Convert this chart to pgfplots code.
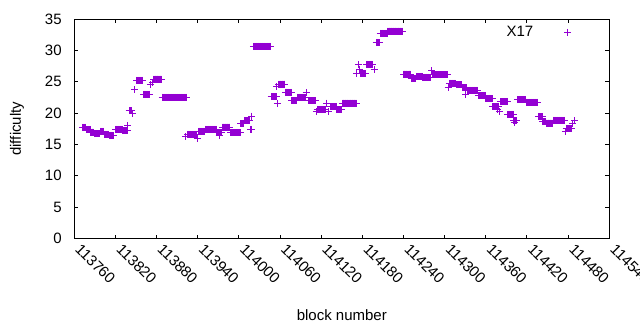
\documentclass[border=0pt]{standalone}
\usepackage{fontspec}
\setmainfont{Liberation Sans}
\usepackage{pgfplots}
\usepackage{pgfplotstable}
\pgfplotsset{compat=1.18}
\definecolor{dv}{RGB}{148,0,211}
\pgfplotstableread[row sep=\\]{
x y\\
113772 17.7\\113773 17.7\\113774 17.7\\113775 17.7\\113776 17.7\\113777 17.7\\
113778 17.35\\113779 17.35\\113780 17.35\\113781 17.35\\113782 17.35\\113783 17.35\\
113784 16.95\\113785 16.95\\113786 16.95\\113787 16.95\\113788 16.95\\
113789 16.7\\113790 16.7\\113791 16.7\\113792 16.7\\113793 16.7\\113794 16.7\\113795 16.7\\113796 16.7\\113797 16.7\\
113798 17.1\\113799 17.1\\113800 17.1\\113801 17.1\\113802 17.1\\113803 17.1\\
113804 16.6\\113805 16.6\\113806 16.6\\113807 16.6\\113808 16.6\\113809 16.6\\113810 16.6\\
113811 16.4\\113812 16.4\\113813 16.4\\113814 16.4\\113815 16.4\\113816 16.4\\113817 16.4\\
113820 17.4\\113821 17.4\\113822 17.4\\113823 17.4\\113824 17.4\\113825 17.4\\113826 17.4\\113827 17.4\\113828 17.4\\113829 17.4\\113830 17.4\\
113831 17.2\\113832 17.2\\113833 17.2\\113834 17.2\\113835 17.2\\113836 17.2\\113837 17.2\\
113838 18.0\\
113840 20.4\\113841 20.4\\113842 20.4\\113843 20.4\\113844 20.4\\
113845 20.0\\
113848 23.7\\
113851 25.2\\113852 25.2\\113853 25.2\\113854 25.2\\113855 25.2\\113856 25.2\\113857 25.2\\113858 25.2\\113859 25.2\\113860 25.2\\
113861 23.0\\113862 23.0\\113863 23.0\\113864 23.0\\113865 23.0\\113866 23.0\\113867 23.0\\113868 23.0\\113869 23.0\\113870 23.0\\
113871 24.5\\
113874 24.85\\
113876 25.4\\113877 25.4\\113878 25.4\\113879 25.4\\113880 25.4\\113881 25.4\\113882 25.4\\113883 25.4\\113884 25.4\\113885 25.4\\113886 25.4\\113887 25.4\\
113888 22.5\\113889 22.5\\113890 22.5\\113891 22.5\\113892 22.5\\113893 22.5\\113894 22.5\\113895 22.5\\113896 22.5\\113897 22.5\\
113898 22.5\\113899 22.5\\113900 22.5\\113901 22.5\\113902 22.5\\113903 22.5\\113904 22.5\\113905 22.5\\113906 22.5\\113907 22.5\\
113908 22.5\\113909 22.5\\113910 22.5\\113911 22.5\\113912 22.5\\113913 22.5\\113914 22.5\\113915 22.5\\113916 22.5\\113917 22.5\\
113918 22.5\\113919 22.5\\113920 22.5\\113921 22.5\\113922 22.5\\113923 22.5\\113924 22.5\\
113922 16.2\\
113925 16.6\\113926 16.6\\113927 16.6\\113928 16.6\\113929 16.6\\113930 16.6\\113931 16.6\\113932 16.6\\113933 16.6\\113934 16.6\\113935 16.6\\113936 16.6\\113937 16.6\\113938 16.6\\
113939 16.0\\
113941 17.1\\113942 17.1\\113943 17.1\\113944 17.1\\113945 17.1\\113946 17.1\\113947 17.1\\113948 17.1\\113949 17.1\\113950 17.1\\
113951 17.4\\113952 17.4\\113953 17.4\\113954 17.4\\113955 17.4\\113956 17.4\\113957 17.4\\113958 17.4\\113959 17.4\\113960 17.4\\
113961 17.4\\113962 17.4\\113963 17.4\\113964 17.4\\113965 17.4\\113966 17.4\\113967 17.4\\
113968 16.9\\113969 16.9\\113970 16.9\\113971 16.9\\113972 16.9\\113973 16.9\\113974 16.9\\113975 16.9\\
113971 16.35\\
113976 17.75\\113977 17.75\\113978 17.75\\113979 17.75\\113980 17.75\\113981 17.75\\113982 17.75\\113983 17.75\\113984 17.75\\113985 17.75\\113986 17.75\\113987 17.75\\
113988 16.9\\113989 16.9\\113990 16.9\\113991 16.9\\113992 16.9\\113993 16.9\\113994 16.9\\113995 16.9\\113996 16.9\\113997 16.9\\
113998 16.9\\113999 16.9\\114000 16.9\\114001 16.9\\114002 16.9\\
114003 18.3\\114004 18.3\\114005 18.3\\114006 18.3\\114007 18.3\\
114008 18.8\\114009 18.8\\114010 18.8\\114011 18.8\\114012 18.8\\114013 18.8\\114014 18.8\\114015 18.8\\114016 18.8\\
114017 17.4\\114018 17.4\\
114019 19.5\\
114021 30.65\\114022 30.65\\114023 30.65\\114024 30.65\\114025 30.65\\114026 30.65\\114027 30.65\\114028 30.65\\114029 30.65\\114030 30.65\\
114031 30.65\\114032 30.65\\114033 30.65\\114034 30.65\\114035 30.65\\114036 30.65\\114037 30.65\\114038 30.65\\114039 30.65\\114040 30.65\\
114041 30.65\\114042 30.65\\114043 30.65\\114044 30.65\\114045 30.65\\114046 30.65\\
114047 22.6\\114048 22.6\\114049 22.6\\114050 22.6\\114051 22.6\\114052 22.6\\114053 22.6\\114054 22.6\\114055 22.6\\
114056 21.6\\
114055 24.2\\
114058 24.6\\114059 24.6\\114060 24.6\\114061 24.6\\114062 24.6\\114063 24.6\\114064 24.6\\114065 24.6\\114066 24.6\\114067 24.6\\
114068 23.3\\114069 23.3\\114070 23.3\\114071 23.3\\114072 23.3\\114073 23.3\\114074 23.3\\114075 23.3\\114076 23.3\\
114077 22.0\\114078 22.0\\114079 22.0\\114080 22.0\\114081 22.0\\114082 22.0\\114083 22.0\\114084 22.0\\
114085 22.5\\114086 22.5\\114087 22.5\\114088 22.5\\114089 22.5\\114090 22.5\\114091 22.5\\114092 22.5\\114093 22.5\\114094 22.5\\114095 22.5\\114096 22.5\\114097 22.5\\
114098 23.25\\
114102 22.0\\114103 22.0\\114104 22.0\\114105 22.0\\114106 22.0\\114107 22.0\\114108 22.0\\114109 22.0\\114110 22.0\\114111 22.0\\114112 22.0\\
114113 20.2\\
114114 20.5\\114115 20.5\\114116 20.5\\114117 20.5\\114118 20.5\\114119 20.5\\114120 20.5\\114121 20.5\\114122 20.5\\114123 20.5\\114124 20.5\\114125 20.5\\114126 20.5\\
114128 21.6\\
114131 20.2\\
114134 21.0\\114135 21.0\\114136 21.0\\114137 21.0\\114138 21.0\\114139 21.0\\114140 21.0\\114141 21.0\\114142 21.0\\
114143 20.5\\114144 20.5\\114145 20.5\\114146 20.5\\114147 20.5\\114148 20.5\\114149 20.5\\114150 20.5\\
114151 21.6\\114152 21.6\\114153 21.6\\114154 21.6\\114155 21.6\\114156 21.6\\114157 21.6\\114158 21.6\\114159 21.6\\114160 21.6\\
114161 21.6\\114162 21.6\\114163 21.6\\114164 21.6\\114165 21.6\\114166 21.6\\114167 21.6\\114168 21.6\\114169 21.6\\114170 21.6\\114171 21.6\\
114172 26.3\\
114174 27.7\\
114176 27.0\\
114177 26.3\\114178 26.3\\114179 26.3\\114180 26.3\\114181 26.3\\114182 26.3\\114183 26.3\\114184 26.3\\
114186 27.75\\114187 27.75\\114188 27.75\\114189 27.75\\114190 27.75\\114191 27.75\\114192 27.75\\114193 27.75\\114194 27.75\\114195 27.75\\
114197 26.9\\
114200 31.2\\114201 31.2\\114202 31.2\\114203 31.2\\114204 31.2\\114205 31.2\\
114206 32.7\\114207 32.7\\114208 32.7\\114209 32.7\\114210 32.7\\114211 32.7\\114212 32.7\\114213 32.7\\114214 32.7\\114215 32.7\\114216 32.7\\
114217 33.05\\114218 33.05\\114219 33.05\\114220 33.05\\114221 33.05\\114222 33.05\\114223 33.05\\114224 33.05\\114225 33.05\\114226 33.05\\
114227 33.05\\114228 33.05\\114229 33.05\\114230 33.05\\114231 33.05\\114232 33.05\\114233 33.05\\114234 33.05\\114235 33.05\\114236 33.05\\114237 33.05\\114238 33.05\\
114240 26.2\\114241 26.2\\114242 26.2\\114243 26.2\\114244 26.2\\114245 26.2\\114246 26.2\\114247 26.2\\114248 26.2\\114249 26.2\\114250 26.2\\
114251 25.5\\114252 25.5\\114253 25.5\\114254 25.5\\114255 25.5\\114256 25.5\\114257 25.5\\114258 25.5\\
114259 25.8\\114260 25.8\\114261 25.8\\114262 25.8\\114263 25.8\\114264 25.8\\114265 25.8\\114266 25.8\\114267 25.8\\
114268 25.7\\114269 25.7\\114270 25.7\\114271 25.7\\114272 25.7\\114273 25.7\\114274 25.7\\114275 25.7\\114276 25.7\\114277 25.7\\114278 25.7\\114279 25.7\\114280 25.7\\
114281 26.75\\
114282 26.1\\114283 26.1\\114284 26.1\\114285 26.1\\114286 26.1\\114287 26.1\\114288 26.1\\114289 26.1\\114290 26.1\\114291 26.1\\114292 26.1\\114293 26.1\\
114294 26.1\\114295 26.1\\114296 26.1\\114297 26.1\\114298 26.1\\114299 26.1\\114300 26.1\\114301 26.1\\114302 26.1\\114303 26.1\\114304 26.1\\
114305 24.0\\
114307 24.75\\114308 24.75\\114309 24.75\\114310 24.75\\114311 24.75\\114312 24.75\\114313 24.75\\114314 24.75\\114315 24.75\\114316 24.75\\
114317 24.5\\114318 24.5\\114319 24.5\\114320 24.5\\114321 24.5\\114322 24.5\\114323 24.5\\114324 24.5\\114325 24.5\\
114326 24.0\\114327 24.0\\114328 24.0\\114329 24.0\\114330 24.0\\114331 24.0\\114332 24.0\\
114331 23.0\\
114333 23.6\\114334 23.6\\114335 23.6\\114336 23.6\\114337 23.6\\114338 23.6\\114339 23.6\\114340 23.6\\114341 23.6\\114342 23.6\\114343 23.6\\114344 23.6\\114345 23.6\\114346 23.6\\114347 23.6\\114348 23.6\\
114349 22.8\\114350 22.8\\114351 22.8\\114352 22.8\\114353 22.8\\114354 22.8\\114355 22.8\\114356 22.8\\114357 22.8\\114358 22.8\\114359 22.8\\
114360 22.3\\114361 22.3\\114362 22.3\\114363 22.3\\114364 22.3\\114365 22.3\\114366 22.3\\114367 22.3\\114368 22.3\\114369 22.3\\
114370 21.0\\114371 21.0\\114372 21.0\\114373 21.0\\114374 21.0\\114375 21.0\\114376 21.0\\114377 21.0\\114378 21.0\\114379 21.0\\
114377 20.6\\
114380 20.2\\
114381 21.8\\114382 21.8\\114383 21.8\\114384 21.8\\114385 21.8\\114386 21.8\\114387 21.8\\114388 21.8\\114389 21.8\\114390 21.8\\114391 21.8\\
114392 19.8\\114393 19.8\\114394 19.8\\114395 19.8\\114396 19.8\\114397 19.8\\114398 19.8\\114399 19.8\\114400 19.8\\
114401 18.8\\114402 18.8\\114403 18.8\\114404 18.8\\114405 18.8\\
114402 18.5\\
114406 22.1\\114407 22.1\\114408 22.1\\114409 22.1\\114410 22.1\\114411 22.1\\114412 22.1\\114413 22.1\\114414 22.1\\114415 22.1\\114416 22.1\\114417 22.1\\114418 22.1\\
114419 21.7\\114420 21.7\\114421 21.7\\114422 21.7\\114423 21.7\\114424 21.7\\114425 21.7\\114426 21.7\\114427 21.7\\
114428 21.7\\114429 21.7\\114430 21.7\\114431 21.7\\114432 21.7\\114433 21.7\\114434 21.7\\114435 21.7\\114436 21.7\\
114437 19.4\\114438 19.4\\114439 19.4\\114440 19.4\\114441 19.4\\114442 19.4\\
114443 18.6\\114444 18.6\\114445 18.6\\114446 18.6\\114447 18.6\\
114448 18.4\\114449 18.4\\114450 18.4\\114451 18.4\\114452 18.4\\114453 18.4\\114454 18.4\\114455 18.4\\114456 18.4\\114457 18.4\\
114458 18.85\\114459 18.85\\114460 18.85\\114461 18.85\\114462 18.85\\114463 18.85\\114464 18.85\\114465 18.85\\114466 18.85\\
114467 18.85\\114468 18.85\\114469 18.85\\114470 18.85\\114471 18.85\\114472 18.85\\114473 18.85\\114474 18.85\\114475 18.85\\
114476 17.0\\
114477 17.5\\114478 17.5\\114479 17.5\\114480 17.5\\114481 17.5\\114482 17.5\\114483 17.5\\114484 17.5\\114485 17.5\\
114487 18.3\\
114489 18.8\\
}\data
\begin{document}
\begin{tikzpicture}
\path[use as bounding box] (-74.3pt,-91.5pt) rectangle (565.7pt,238.5pt);
\begin{axis}[
  at={(0pt,0pt)}, anchor=south west,
  scale only axis, width=535pt, height=219.5pt,
  font=\fontsize{15}{18}\selectfont,
  xmin=113760, xmax=114540, ymin=0, ymax=35,
  xtick={113760,113820,113880,113940,114000,114060,114120,114180,114240,114300,114360,114420,114480,114540},
  xticklabels={113760,113820,113880,113940,114000,114060,114120,114180,114240,114300,114360,114420,114480,114540},
  ytick={0,5,...,35},
  yticklabels={0,5,10,15,20,25,30,35},
  scaled x ticks=false,
  scaled y ticks=false,
  tick align=inside,
  major tick length=4pt,
  tick style={line width=1pt, black},
  axis line style={line width=1pt},
  xticklabel style={yshift=-11.5pt, rotate=-45, anchor=base west, inner sep=0pt},
  yticklabel style={anchor=east, inner sep=0pt, xshift=-12.5pt},
  xlabel={block number},
  ylabel={difficulty},
  xlabel style={at={(axis description cs:0.5,-0.3713)}, anchor=base, inner sep=0pt},
  ylabel style={at={(axis description cs:-0.1071,0.5)}, anchor=center},
  legend plot pos=right,
  legend image code/.code={\draw[#1] plot coordinates {(0pt,0pt)};},
  legend style={draw=none, fill=none, inner sep=0pt, outer sep=0pt,
    at={(axis description cs:0.929,0.9394)}, anchor=east,
    nodes={inner sep=0pt},
    /tikz/every odd column/.append style={column sep=31pt}},
  clip=false,
]
\addplot[only marks, mark=+, mark size=3.5pt, color=dv, mark options={line width=1pt}] table {\data};
\addlegendentry{X17}
\end{axis}
\end{tikzpicture}
\end{document}
